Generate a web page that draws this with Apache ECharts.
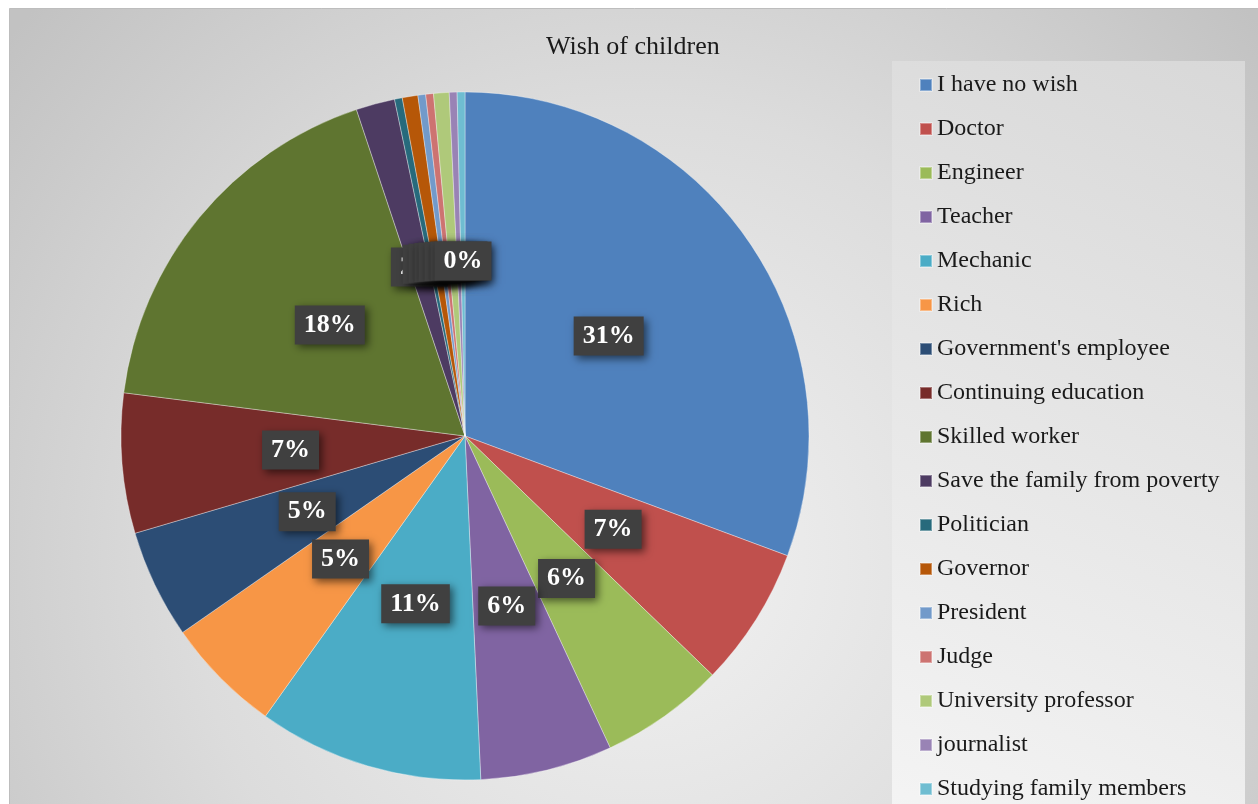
<!DOCTYPE html>
<html>
<head>
<meta charset="utf-8">
<script src="https://cdn.jsdelivr.net/npm/echarts@6/dist/echarts.min.js"></script>
<style>
  html, body { margin: 0; padding: 0; background: #fff; }
  #wish { width: 1258px; height: 804px; }
</style>
</head>
<body>
<div id="wish"></div>
<script>
var categories = ['I have no wish', 'Doctor', 'Engineer', 'Teacher', 'Mechanic', 'Rich',
  "Government's employee", 'Continuing education', 'Skilled worker',
  'Save the family from poverty', 'Politician', 'Governor', 'President', 'Judge',
  'University professor', 'journalist', 'Studying family members'];
var counts = [84, 18, 16, 17, 29, 15, 14, 18, 49, 5, 1, 2, 1, 1, 2, 1, 1];
var colors = ['#4F81BD', '#C0504D', '#9BBB59', '#8064A2', '#4BACC6', '#F79646',
  '#2C4D75', '#772C2A', '#5F7530', '#4D3B62', '#276A7C', '#B65708',
  '#729ACA', '#CD7371', '#AFC97A', '#9983B5', '#6FBDD1'];

var total = counts.reduce(function (a, b) { return a + b; }, 0);
var serif = '"Liberation Serif", "Times New Roman", serif';

var myChart = echarts.init(document.getElementById('wish'));

var option = {
  color: colors,
  title: {
    text: 'Wish of children',
    left: 541,
    top: 29,
    textStyle: {
      fontFamily: serif,
      fontSize: 26,
      fontWeight: 'normal',
      color: '#1a1a1a'
    }
  },
  graphic: [
    {
      type: 'rect',
      z: -10,
      shape: { x: 9.5, y: 8.5, width: 1260, height: 800 },
      style: {
        fill: {
          type: 'radial', x: 640, y: 560, r: 820, global: true,
          colorStops: [
            { offset: 0, color: '#f2f2f2' },
            { offset: 0.55, color: '#dcdcdc' },
            { offset: 1, color: '#c2c2c2' }
          ]
        },
        stroke: '#bdbdbd',
        lineWidth: 1
      }
    },
    {
      type: 'rect',
      z: -5,
      shape: { x: 892, y: 61, width: 353, height: 760 },
      style: {
        fill: {
          type: 'linear', x: 0, y: 1, x2: 1, y2: 0,
          colorStops: [
            { offset: 0, color: '#f4f4f4' },
            { offset: 1, color: '#d8d8d8' }
          ]
        }
      }
    }
  ],
  legend: {
    orient: 'vertical',
    left: 914,
    top: 68,
    height: 800,
    icon: 'rect',
    itemWidth: 12,
    itemHeight: 12,
    itemGap: 20,
    textStyle: {
      fontFamily: serif,
      fontSize: 24,
      lineHeight: 24,
      color: '#1a1a1a'
    },
    data: categories
  },
  series: [
    {
      type: 'pie',
      center: [465, 436],
      radius: 344,
      startAngle: 90,
      clockwise: true,
      avoidLabelOverlap: false,
      minShowLabelAngle: 0,
      labelLayout: { hideOverlap: false },
      itemStyle: {
        borderColor: 'rgba(255,255,255,0.35)',
        borderWidth: 1
      },
      label: {
        position: 'inside',
        formatter: function (p) {
          return Math.round(p.value / total * 100) + '%';
        },
        fontFamily: serif,
        fontSize: 26,
        fontWeight: 'bold',
        color: '#fff',
        backgroundColor: '#404040',
        padding: [7, 9, 6, 9],
        shadowColor: 'rgba(0,0,0,0.55)',
        shadowBlur: 8,
        shadowOffsetX: 3,
        shadowOffsetY: 3
      },
      labelLine: { show: false },
      emphasis: { disabled: true },
      data: categories.map(function (name, i) {
        return { name: name, value: counts[i] };
      })
    }
  ]
};

myChart.setOption(option);
</script>
</body>
</html>
